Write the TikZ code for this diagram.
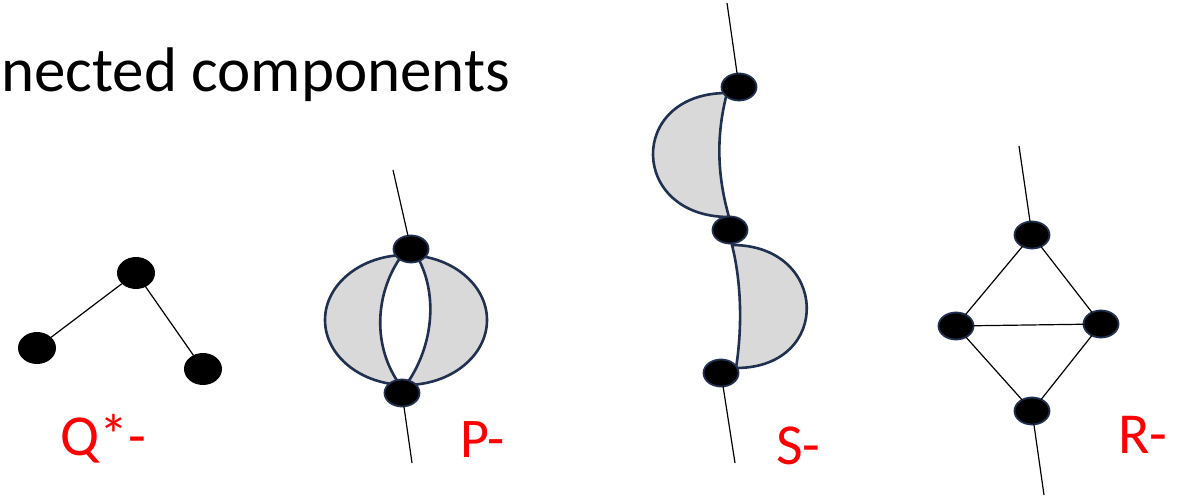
\documentclass[tikz,border=0pt]{standalone}
\usepackage{fontspec}
\setmainfont{Carlito}
\usetikzlibrary{shapes.geometric}
\definecolor{navy}{HTML}{1F3050}
\definecolor{moon}{HTML}{D9D9D9}
\definecolor{lblred}{HTML}{FF0000}
\tikzset{
  vtx/.style={ellipse, fill=black, inner sep=0pt, outer sep=0pt, minimum width=37pt, minimum height=30pt},
  qvtx/.style={vtx, minimum width=38pt, minimum height=32pt},
  bvtx/.style={vtx, draw=navy, line width=1.8pt, minimum width=35pt, minimum height=27pt},
  thin/.style={draw=black, line width=1.2pt},
  shell/.style={draw=navy, line width=2.6pt, fill=moon},
  hole/.style={draw=navy, line width=2.6pt, fill=white},
  lbl/.style={text=lblred, inner sep=0pt, anchor=base west, font=\fontsize{58}{60}\selectfont},
}
\begin{document}
\begin{tikzpicture}[x=1pt,y=-1pt]
\useasboundingbox (0,0) rectangle (1184,497);
% heading
\node[inner sep=0pt, anchor=base west, font=\fontsize{63}{65}\selectfont] (head) at (1,92) {nected components};

% Q*
\node[qvtx] (q1) at (136,273) {};
\node[qvtx] (q2) at (37,348) {};
\node[qvtx] (q3) at (203,369) {};
\draw[thin] (q1) -- (q2);
\draw[thin] (q1) -- (q3);
\node[lbl] (ql) at (60,455) {Q*-};

% P
\coordinate (ptop) at (393,170);
\coordinate (pbot) at (412,463);
\draw[shell] (406,320) ellipse [x radius=81, y radius=65];
\draw[hole] (400,258) .. controls (375,295) and (373,345) .. (398,382)
  -- (408,382) .. controls (433,345) and (438,295) .. (418,258) -- cycle;
\node[bvtx] (p1) at (411,249) {};
\node[bvtx] (p2) at (402,393) {};
\draw[thin] (ptop) -- (p1);
\draw[thin] (p2) -- (pbot);
\node[lbl, font=\fontsize{56}{58}\selectfont] (pl) at (460,457) {P-};

% S
\coordinate (stop) at (727,3);
\coordinate (sbot) at (735,463);
\draw[shell] (727,93) .. controls (627,93) and (629,217) .. (729,217)
  .. controls (717,175) and (716,135) .. (727,93) -- cycle;
\draw[shell] (732,245) .. controls (829,245) and (833,368) .. (736,368)
  .. controls (742,330) and (742,285) .. (732,245) -- cycle;
\node[bvtx] (s1) at (739,87) {};
\node[bvtx] (s2) at (730,230) {};
\node[bvtx] (s3) at (721,373) {};
\draw[thin] (stop) -- (s1);
\draw[thin] (s3) -- (sbot);
\node[lbl] (sl) at (776,464) {S-};

% R
\coordinate (rtop) at (1019,146);
\coordinate (rbot) at (1044,495);
\node[bvtx] (r1) at (1032,235) {};
\node[bvtx] (r2) at (956,326) {};
\node[bvtx] (r3) at (1101,324) {};
\node[bvtx] (r4) at (1032,411) {};
\draw[thin] (rtop) -- (r1);
\draw[thin] (r1) -- (r2);
\draw[thin] (r1) -- (r3);
\draw[thin] (r2) -- (r3);
\draw[thin] (r2) -- (r4);
\draw[thin] (r3) -- (r4);
\draw[thin] (r4) -- (rbot);
\node[lbl] (rl) at (1118,453) {R-};
\end{tikzpicture}
\end{document}
